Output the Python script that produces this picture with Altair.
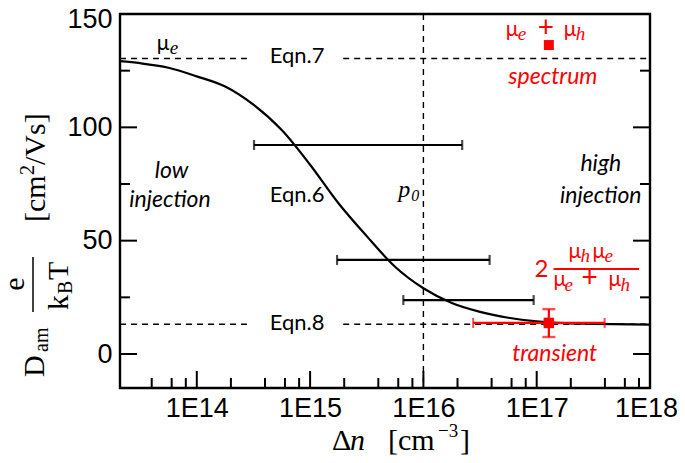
import altair as alt
import pandas as pd

# ---------------- data ----------------
curve_dn = [2.1e13, 3.16e13, 5.62e13, 1.0e14, 1.78e14, 3.16e14, 5.62e14, 1.0e15, 1.78e15,
            3.16e15, 5.62e15, 1.0e16, 1.78e16, 3.16e16, 5.62e16, 1.0e17, 1.78e17, 3.16e17, 1.0e18]
curve_d = [129.2, 128.3, 126.3, 122.5, 118.0, 110.0, 98.8, 83.5, 66.5,
           52.0, 38.5, 29.0, 22.5, 18.6, 16.0, 14.4, 13.6, 13.3, 13.0]

bar_y = [92.2, 41.5, 23.8]
bar_lo = [3.2e14, 1.73e15, 6.65e15]
bar_hi = [2.2e16, 3.84e16, 9.4e16]

tr_x = [1.28e17]
tr_y = [13.7]
tr_xlo = [2.75e16]
tr_xhi = [3.98e17]
tr_ylo = [7.5]
tr_yhi = [19.8]

sp_x = [1.28e17]
sp_y = [136.3]

eqn_levels = [130.4, 13.1]          # Eqn.7 and Eqn.8
seg_lo = [2.1e13, 1.96e15]
seg_hi = [2.77e14, 1.0e18]
p0 = [1e16]

major_x = [1e14, 1e15, 1e16, 1e17, 1e18]
minor_x = [m * 10 ** d for d in range(13, 18) for m in (2, 4, 6, 8) if 2.1e13 < m * 10 ** d < 1e18]
major_y = [0, 50, 100, 150]
minor_y = [25, 75, 125]

W, H = 530, 374
RED = "#ff0000"

XS = alt.Scale(type="log", domain=[2.1e13, 1e18])
YS = alt.Scale(domain=[-15, 150])
XAX = alt.Axis(values=major_x, labelExpr="'1E' + round(log(datum.value)/LN10)", ticks=False,
               domain=False, grid=False, labelFont="Liberation Sans", labelFontSize=27,
               labelColor="black", labelPadding=7, title=None, labelFlush=False, labelOverlap=False,
               labelOffset={"condition": {"test": "datum.value > 5e17", "value": -4}, "value": 0})
YAX = alt.Axis(values=major_y, ticks=False, domain=False, grid=False, labelFont="Liberation Sans",
               labelFontSize=27, labelColor="black", labelPadding=8, title=None, labelFlush=False,
               labelOverlap=False,
               labelOffset={"condition": {"test": "datum.value > 140", "value": 5}, "value": 0})


def X(f):
    return alt.X(f"{f}:Q", scale=XS, axis=XAX)


def Y(f):
    return alt.Y(f"{f}:Q", scale=YS, axis=YAX)


layers = []

# dashed reference lines
hl = pd.DataFrame([{"y": lv, "a": a, "b": b} for lv in eqn_levels for a, b in zip(seg_lo, seg_hi)])
layers.append(alt.Chart(hl).mark_rule(color="black", strokeWidth=1.4, strokeDash=[6, 5])
              .encode(x=X("a"), x2="b:Q", y=Y("y")))
layers.append(alt.Chart(pd.DataFrame({"x": p0})).mark_rule(color="black", strokeWidth=1.4, strokeDash=[6, 5])
              .encode(x=X("x")))

# model curve
cv = pd.DataFrame({"x": curve_dn, "y": curve_d})
layers.append(alt.Chart(cv).mark_line(color="black", strokeWidth=2.2, interpolate="monotone")
              .encode(x=X("x"), y=Y("y")))

# black horizontal error bars
bb = pd.DataFrame({"y": bar_y, "lo": bar_lo, "hi": bar_hi})
layers.append(alt.Chart(bb).mark_rule(color="black", strokeWidth=2.2).encode(x=X("lo"), x2="hi:Q", y=Y("y")))
layers.append(alt.Chart(bb).mark_tick(color="black", orient="vertical", size=10, thickness=2.2)
              .encode(x=X("lo"), y=Y("y")))
layers.append(alt.Chart(bb).mark_tick(color="black", orient="vertical", size=10, thickness=2.2)
              .encode(x=X("hi"), y=Y("y")))

# red transient point
tr = pd.DataFrame({"x": tr_x, "y": tr_y, "xlo": tr_xlo, "xhi": tr_xhi, "ylo": tr_ylo, "yhi": tr_yhi})
layers.append(alt.Chart(tr).mark_rule(color=RED, strokeWidth=2.2).encode(x=X("xlo"), x2="xhi:Q", y=Y("y")))
layers.append(alt.Chart(tr).mark_rule(color=RED, strokeWidth=2.2).encode(x=X("x"), y=Y("ylo"), y2="yhi:Q"))
for f in ("xlo", "xhi"):
    layers.append(alt.Chart(tr).mark_tick(color=RED, orient="vertical", size=10, thickness=2)
                  .encode(x=X(f), y=Y("y")))
for f in ("ylo", "yhi"):
    layers.append(alt.Chart(tr).mark_tick(color=RED, orient="horizontal", size=13, thickness=2.4)
                  .encode(x=X("x"), y=Y(f)))
layers.append(alt.Chart(tr).mark_square(color=RED, size=110, opacity=1).encode(x=X("x"), y=Y("y")))

# red spectrum point
sp = pd.DataFrame({"x": sp_x, "y": sp_y})
layers.append(alt.Chart(sp).mark_square(color=RED, size=100, opacity=1).encode(x=X("x"), y=Y("y")))

# inward ticks
layers.append(alt.Chart(pd.DataFrame({"v": major_x})).mark_rule(color="black", strokeWidth=2)
              .encode(x=X("v"), y=alt.value(H), y2=alt.value(H - 17)))
layers.append(alt.Chart(pd.DataFrame({"v": minor_x})).mark_rule(color="black", strokeWidth=2)
              .encode(x=X("v"), y=alt.value(H), y2=alt.value(H - 10)))
for v, ln in ((major_y, 17), (minor_y, 10)):
    d = pd.DataFrame({"v": v})
    layers.append(alt.Chart(d).mark_rule(color="black", strokeWidth=2)
                  .encode(y=Y("v"), x=alt.value(0), x2=alt.value(ln)))
    layers.append(alt.Chart(d).mark_rule(color="black", strokeWidth=2)
                  .encode(y=Y("v"), x=alt.value(W), x2=alt.value(W - ln)))


# ---------------- annotations ----------------
def piece(x, y, text, dx=0, dy=0, size=22, font="Lato", style="normal", color="black",
          align="left", baseline="alphabetic"):
    df = pd.DataFrame({"x": [x], "y": [y], "t": [text]})
    return (alt.Chart(df)
            .mark_text(dx=dx, dy=dy, fontSize=size, font=font, fontStyle=style, color=color,
                       align=align, baseline=baseline)
            .encode(x=X("x"), y=Y("y"), text="t:N"))


SER = "Liberation Serif"

# mu_e top-left
layers += [piece(4.43e13, 134.1, "μ", size=21),
           piece(4.43e13, 134.1, "e", dx=13, dy=4, size=19, font=SER, style="italic")]
# Eqn labels
for yv, txt in ((128.4, "Eqn.7"), (67.0, "Eqn.6"), (10.6, "Eqn.8")):
    layers.append(piece(7.67e14, yv, txt, size=22, align="center"))
# p0
layers += [piece(6.01e15, 69.3, "p", size=24, font=SER, style="italic"),
           piece(6.01e15, 69.3, "0", dx=13, dy=4, size=16, font=SER, style="italic")]
# low / high injection
layers += [piece(6.0e13, 77.6, "low", size=23, style="italic", align="center"),
           piece(5.8e13, 64.8, "injection", size=23, style="italic", align="center"),
           piece(3.68e17, 80.7, "high", size=23, style="italic", align="center"),
           piece(3.68e17, 66.6, "injection", size=23, style="italic", align="center")]
# red labels
layers += [piece(1.39e17, 119.1, "spectrum", size=23, style="italic", color=RED, align="center"),
           piece(1.44e17, -3.1, "transient", size=23, style="italic", color=RED, align="center")]
# mu_e + mu_h (top)
ax, ay = 5.32e16, 140.3
layers += [piece(ax, ay, "μ", size=21, color=RED),
           piece(ax, ay, "e", dx=12, dy=4, size=19, font=SER, style="italic", color=RED),
           piece(ax, ay, "+", dx=32, dy=1, size=28, color=RED),
           piece(ax, ay, "μ", dx=58, size=21, color=RED),
           piece(ax, ay, "h", dx=70, dy=4, size=19, font=SER, style="italic", color=RED)]
# 2 mu_h mu_e / (mu_e + mu_h)
fx, fy = 1.41e17, 37.5
layers.append(alt.Chart(pd.DataFrame({"a": [fx], "b": [8.0e17], "y": [fy]}))
              .mark_rule(color=RED, strokeWidth=2).encode(x=X("a"), x2="b:Q", y=Y("y")))
layers += [piece(fx, fy, "2", dx=-19, dy=8, size=24, color=RED),
           piece(fx, fy, "μ", dx=15, dy=-11, size=21, color=RED),
           piece(fx, fy, "h", dx=27, dy=-7, size=19, font=SER, style="italic", color=RED),
           piece(fx, fy, "μ", dx=39, dy=-11, size=21, color=RED),
           piece(fx, fy, "e", dx=51, dy=-7, size=19, font=SER, style="italic", color=RED),
           piece(fx, fy, "μ", dx=0, dy=17, size=21, color=RED),
           piece(fx, fy, "e", dx=11, dy=22, size=19, font=SER, style="italic", color=RED),
           piece(fx, fy, "+", dx=28, dy=18, size=28, color=RED),
           piece(fx, fy, "μ", dx=55, dy=17, size=21, color=RED),
           piece(fx, fy, "h", dx=67, dy=22, size=19, font=SER, style="italic", color=RED)]


# ---------------- axis titles (screen positioned text) ----------------
OX, OY = 120, 14  # page position of the plot origin


def spiece(px, py, text, size, angle=0, style="normal", align="left"):
    return (alt.Chart(pd.DataFrame({"t": [text]}))
            .mark_text(fontSize=size, font=SER, fontStyle=style, color="black", align=align,
                       baseline="alphabetic", angle=angle)
            .encode(x=alt.value(px - OX), y=alt.value(py - OY), text="t:N"))


# y title: D_am e/(k_B T)  [cm^2/Vs]
layers += [spiece(44, 377, "D", 30, angle=270),
           spiece(48, 352, "am", 20, angle=270),
           spiece(24, 284, "e", 30, angle=270, align="center"),
           spiece(68, 310, "k", 30, angle=270),
           spiece(72, 294, "B", 20, angle=270),
           spiece(68, 280, "T", 30, angle=270),
           spiece(45, 222, "[cm", 30, angle=270),
           spiece(34, 175, "2", 20, angle=270),
           spiece(45, 165, "/Vs]", 30, angle=270)]
layers.append(alt.Chart(pd.DataFrame({"t": [0]})).mark_rule(color="black", strokeWidth=1.5)
              .encode(x=alt.value(33 - OX), y=alt.value(257 - OY), y2=alt.value(312 - OY)))
# x title: Δn [cm^-3]
layers += [spiece(332, 450, "Δ", 30),
           spiece(350, 450, "n", 30, style="italic"),
           spiece(388, 450, "[cm", 30),
           spiece(438, 437, "−3", 19),
           spiece(460, 450, "]", 30)]

chart = (alt.layer(*layers)
         .properties(width=W, height=H, autosize=alt.AutoSizeParams(type="none"),
                     padding={"left": 112, "top": 6, "right": 27, "bottom": 67})
         .configure(background="white")
         .configure_view(stroke="black", strokeWidth=2.4))

chart.save("out.html", embed_options={"renderer": "svg", "actions": False})
